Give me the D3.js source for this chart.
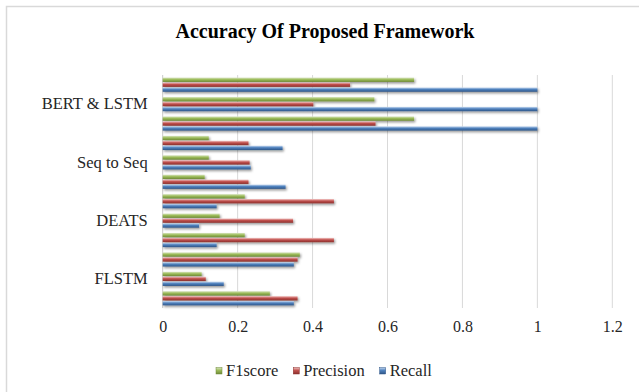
<!DOCTYPE html>
<html>
<head>
<meta charset="utf-8">
<script src="https://cdn.jsdelivr.net/npm/d3@7"></script>
<style>
  html, body { margin: 0; padding: 0; background: #fff; }
  svg { display: block; }
</style>
</head>
<body>
<svg id="chart" width="639" height="392" font-family="'Liberation Serif', 'Times New Roman', serif"></svg>
<script>
// ---- data (rows listed bottom -> top, three sub-rows per category) ----
const categories = ["FLSTM", "DEATS", "Seq to Seq", "BERT & LSTM"];
const subRows = 3;
const seriesNames = ["F1score", "Precision", "Recall"];
const recall    = [0.35, 0.163, 0.35,  0.144, 0.097, 0.144,  0.328, 0.235, 0.32,  1.0, 1.0, 1.0];
const precision = [0.36, 0.115, 0.36,  0.457, 0.348, 0.457,  0.229, 0.232, 0.229, 0.568, 0.402, 0.5];
const f1score   = [0.286, 0.104, 0.366, 0.219, 0.152, 0.219, 0.112, 0.123, 0.123, 0.671, 0.565, 0.671];
const xTicks = [0, 0.2, 0.4, 0.6, 0.8, 1, 1.2];
const xTickLabels = ["0", "0.2", "0.4", "0.6", "0.8", "1", "1.2"];
const title = "Accuracy Of Proposed Framework";

const FONT = "'Liberation Serif', 'Times New Roman', serif";
const colors = {
  F1score:   { light: "#d7e4bd", base: "#9bbb59", dark: "#6f8a37" },
  Precision: { light: "#f2c4c3", base: "#c0504d", dark: "#8c302d" },
  Recall:    { light: "#c6d9f1", base: "#4f81bd", dark: "#2f5688" }
};
const seriesValues = { F1score: f1score, Precision: precision, Recall: recall };

const svg = d3.select("#chart");
const W = 639, H = 392;
const plot = { left: 162.7, right: 612.3, top: 75, bottom: 308 };

// chart border
svg.append("rect")
  .attr("x", 6.5).attr("y", 6.5)
  .attr("width", W + 10).attr("height", H + 10)
  .attr("fill", "#fff").attr("stroke", "#d9d9d9").attr("stroke-width", 1.5);

// defs: gradients + shadow
const defs = svg.append("defs");
seriesNames.forEach(s => {
  const g = defs.append("linearGradient").attr("id", "g-" + s)
    .attr("x1", 0).attr("y1", 0).attr("x2", 0).attr("y2", 1);
  g.append("stop").attr("offset", "0%").attr("stop-color", colors[s].light);
  g.append("stop").attr("offset", "45%").attr("stop-color", colors[s].base);
  g.append("stop").attr("offset", "100%").attr("stop-color", colors[s].dark);
});
const f = defs.append("filter").attr("id", "shadow")
  .attr("x", "-5%").attr("y", "-60%").attr("width", "115%").attr("height", "280%");
f.append("feDropShadow").attr("dx", 1.2).attr("dy", 1.6).attr("stdDeviation", 1)
  .attr("flood-color", "#000").attr("flood-opacity", 0.4);

// scales
const nRows = categories.length * subRows;
const rows = d3.range(nRows);
const x = d3.scaleLinear().domain([0, 1.2]).range([plot.left, plot.right]);
const y = d3.scaleBand().domain(rows).range([plot.bottom, plot.top]).paddingInner(0.24).paddingOuter(0.12);
// within a row: F1score top, Precision middle, Recall bottom
const ySub = d3.scaleBand().domain(["F1score", "Precision", "Recall"]).range([0, y.bandwidth()]).padding(0.0);

// gridlines
svg.append("g").selectAll("line").data(xTicks.filter(d => d > 0)).join("line")
  .attr("x1", d => x(d)).attr("x2", d => x(d))
  .attr("y1", plot.top).attr("y2", plot.bottom)
  .attr("stroke", "#d9d9d9").attr("stroke-width", 1);

// y axis line
svg.append("line")
  .attr("x1", x(0)).attr("x2", x(0)).attr("y1", plot.top).attr("y2", plot.bottom)
  .attr("stroke", "#c8c8c8").attr("stroke-width", 1);

// bars
const barData = [];
rows.forEach(r => seriesNames.forEach(s => barData.push({ row: r, series: s, value: seriesValues[s][r] })));
svg.append("g").selectAll("rect").data(barData).join("rect")
  .attr("x", x(0))
  .attr("y", d => y(d.row) + ySub(d.series) + 0.3)
  .attr("width", d => x(d.value) - x(0))
  .attr("height", ySub.bandwidth() - 0.6)
  .attr("fill", d => `url(#g-${d.series})`)
  .attr("filter", "url(#shadow)");

// y axis labels
const yAxis = d3.axisLeft(y).tickSize(0).tickPadding(15)
  .tickFormat(r => (r % subRows === 1) ? categories[Math.floor(r / subRows)] : "");
const ya = svg.append("g").attr("transform", `translate(${x(0)},0)`).call(yAxis)
  .attr("font-family", FONT).attr("font-size", 16.5);
ya.select(".domain").remove();
ya.selectAll("text").attr("fill", "#262626");

// x axis labels
const xAxis = d3.axisBottom(x).tickValues(xTicks).tickSize(0).tickPadding(13)
  .tickFormat((d, i) => xTickLabels[i]);
const xa = svg.append("g").attr("transform", `translate(0,${plot.bottom})`).call(xAxis)
  .attr("font-family", FONT).attr("font-size", 16);
xa.select(".domain").remove();
xa.selectAll("text").attr("fill", "#262626");

// title
svg.append("text").attr("x", 325).attr("y", 38).attr("text-anchor", "middle")
  .attr("font-family", FONT)
  .attr("font-size", 20).attr("font-weight", "bold").attr("fill", "#000")
  .text(title);

// legend
const legend = svg.append("g").attr("font-family", FONT).attr("font-size", 16.5);
let lx = 216;
seriesNames.forEach(s => {
  const g = legend.append("g").attr("transform", `translate(${lx},0)`);
  g.append("rect").attr("x", 0).attr("y", 367.5).attr("width", 6).attr("height", 6.5)
    .attr("fill", `url(#g-${s})`).attr("stroke", colors[s].dark).attr("stroke-width", 0.5);
  const t = g.append("text").attr("x", 10).attr("y", 376)
    .attr("fill", "#262626").text(s);
  lx += 10 + t.node().getComputedTextLength() + 15;
});
</script>
</body>
</html>
